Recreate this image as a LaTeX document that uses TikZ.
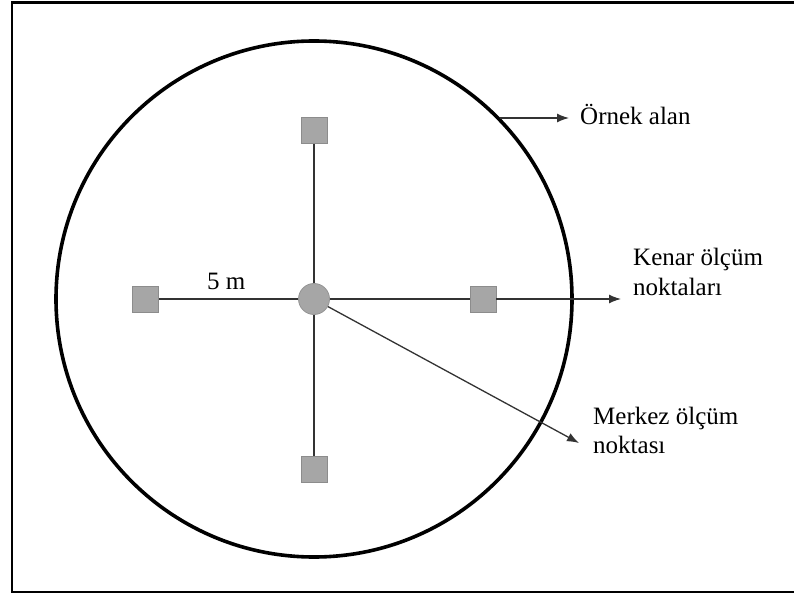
\documentclass[tikz,border=0pt]{standalone}
\usepackage{fontspec}
\setmainfont{Liberation Serif}
\usetikzlibrary{arrows.meta}
\begin{document}
\begin{tikzpicture}[x=1pt,y=-1pt,
  sq/.style={draw=black!45,fill=black!35,line width=0.8pt,minimum size=26pt,inner sep=0pt},
  ctr/.style={circle,draw=black!42,fill=black!35,line width=0.8pt,minimum size=31pt,inner sep=0pt},
  conn/.style={draw=black!80,line width=1.3pt},
  arr/.style={conn,-{Latex[length=12pt,width=9pt]}},
  lbl/.style={font=\fontsize{25}{29}\selectfont,inner sep=0pt,align=left}]
\useasboundingbox (0,0) rectangle (794,593);
\draw[line width=2.8pt] (12,2.5) rectangle (800,592);
\node[circle,draw,line width=3.6pt,minimum size=516pt,inner sep=0pt] (area) at (314,299) {};
\draw[conn] (314,130) -- (314,469);
\draw[conn] (145,299) -- (483,299);
\node[sq] (t) at (314,130) {};
\node[sq] (b) at (314,469) {};
\node[sq] (l) at (145,299) {};
\node[sq] (r) at (483,299) {};
\node[ctr] (c) at (314,299) {};
\coordinate (a1s) at (500,118);
\coordinate (a1e) at (569,118);
\draw[arr] (a1s) -- (a1e);
\node[lbl,anchor=base west] (ornek) at (580,125) {Örnek alan};
\coordinate (a2e) at (621,299);
\draw[arr] (r.east) -- (a2e);
\node[lbl,anchor=base west] (kenar) at (633,295) {Kenar ölçüm\\noktaları};
\coordinate (a3e) at (579,443);
\draw[arr] (c) -- (a3e);
\node[lbl,anchor=base west] (merkez) at (593,453) {Merkez ölçüm\\noktası};
\node[lbl,anchor=base west] (fm) at (207,290) {5 m};
\end{tikzpicture}
\end{document}
